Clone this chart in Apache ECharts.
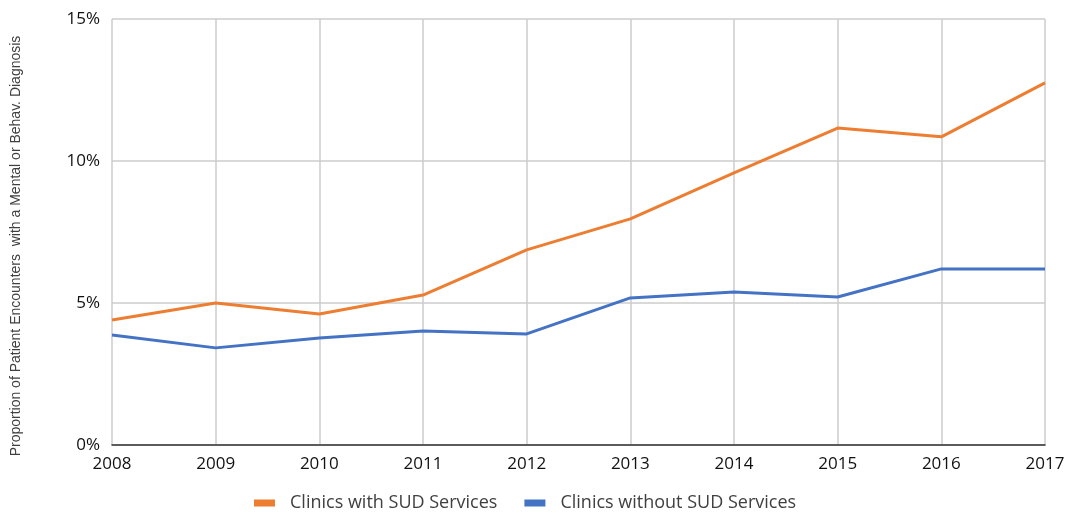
<!DOCTYPE html>
<html><head><meta charset="utf-8">
<script src="https://cdn.jsdelivr.net/npm/echarts@6/dist/echarts.min.js"></script>
<style>html,body{margin:0;padding:0;background:#fff}#c{width:1069px;height:513px}</style>
</head><body><div id="c"></div>
<script>
const years = ['2008','2009','2010','2011','2012','2013','2014','2015','2016','2017'];
const withSUD = [4.40, 5.00, 4.61, 5.28, 6.87, 7.96, 9.58, 11.16, 10.85, 12.75];
const withoutSUD = [3.87, 3.42, 3.77, 4.01, 3.91, 5.18, 5.39, 5.21, 6.20, 6.20];
const yTicks = [0, 5, 10, 15];
const yTitle = 'Proportion of Patient Encounters  with a Mental or Behav. Diagnosis';
const chart = echarts.init(document.getElementById('c'), null, {renderer:'canvas'});
const font = '"Open Sans", Lato, sans-serif';
chart.setOption({
  animation:false,
  grid:{left:112, right:24, top:19, bottom:68},
  graphic:[{
    type:'text', x:16, y:246, rotation:Math.PI/2,
    style:{text:yTitle, font:'14px "Liberation Sans", Arial, sans-serif', fill:'#404040',
      align:'center', verticalAlign:'middle'}
  }],
  legend:{
    top:489, left:249, itemWidth:21, itemHeight:7, itemGap:27,
    icon:'rect',
    textStyle:{fontFamily:font, fontSize:18, color:'#404040', padding:[0,0,0,10]},
    data:['Clinics with SUD Services','Clinics without SUD Services']
  },
  xAxis:{
    type:'category', data:years, boundaryGap:false,
    axisLine:{lineStyle:{color:'#333', width:1.5}},
    axisTick:{show:false},
    axisLabel:{fontFamily:font, fontSize:17, color:'#111', margin:11},
    splitLine:{show:true, lineStyle:{color:'#cccccc', width:1.5}}
  },
  yAxis:{
    type:'value', min:yTicks[0], max:yTicks[yTicks.length-1], interval:5,
    axisLine:{show:false}, axisTick:{show:false},
    axisLabel:{fontFamily:font, fontSize:17, color:'#111', margin:12, formatter: v => v + '%'},
    splitLine:{lineStyle:{color:'#cccccc', width:1.5}}
  },
  series:[
    {name:'Clinics with SUD Services', type:'line', data:withSUD, symbol:'none',
     lineStyle:{color:'#ED7D31', width:3}, itemStyle:{color:'#ED7D31'}},
    {name:'Clinics without SUD Services', type:'line', data:withoutSUD, symbol:'none',
     lineStyle:{color:'#4472C4', width:3}, itemStyle:{color:'#4472C4'}}
  ]
});
</script></body></html>
